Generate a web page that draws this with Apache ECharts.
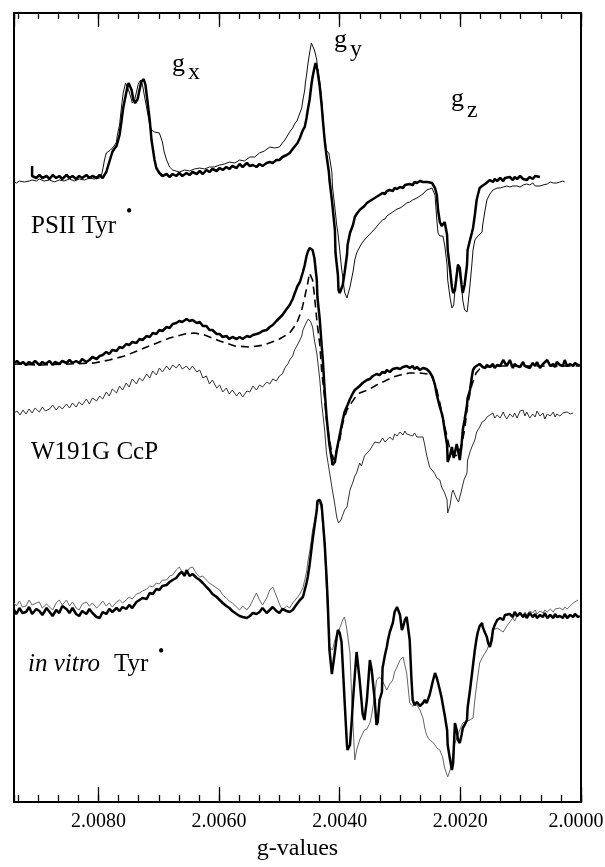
<!DOCTYPE html>
<html>
<head>
<meta charset="utf-8">
<script src="https://cdn.jsdelivr.net/npm/echarts@6/dist/echarts.min.js"></script>
<style>
  html, body { margin: 0; padding: 0; background: #fff; }
  #chart { width: 605px; height: 867px; }
</style>
</head>
<body>
<div id="chart"></div>
<script>
// g-value axis (runs high -> low, left -> right)
var gMin = 2.0000;
var gMax = 2.0094;
var majorStep = 0.0020;
var minorSplit = 6;

// each trace: [g-value, signal (arb. units, offset per sample)]
var psiiTyrThick = [
[2.00910,636],[2.00910,626],[2.00903,624],[2.00898,627],[2.00893,624],[2.00886,626],[2.00881,623],[2.00876,627],[2.00870,624],[2.00865,626],[2.00860,623],[2.00853,627],[2.00848,624],[2.00843,626],[2.00837,623],[2.00832,626],[2.00827,624],[2.00820,627],[2.00815,624],[2.00810,626],[2.00803,624],[2.00798,627],[2.00793,624],[2.00790,625],[2.00787,630],[2.00784,636],[2.00780,644],[2.00777,650],[2.00774,653],[2.00770,656],[2.00765,667],[2.00762,680],[2.00759,694],[2.00755,706],[2.00752,715],[2.00750,719],[2.00747,718],[2.00745,712],[2.00742,702],[2.00739,699],[2.00735,703],[2.00732,712],[2.00729,720],[2.00725,723],[2.00722,717],[2.00719,702],[2.00715,682],[2.00712,662],[2.00707,642],[2.00704,634],[2.00699,629],[2.00694,626],[2.00687,628],[2.00682,625],[2.00677,628],[2.00671,626],[2.00666,629],[2.00661,626],[2.00654,629],[2.00649,627],[2.00644,630],[2.00637,628],[2.00632,631],[2.00627,628],[2.00621,632],[2.00616,630],[2.00611,633],[2.00604,631],[2.00599,634],[2.00594,632],[2.00588,635],[2.00583,633],[2.00578,636],[2.00571,634],[2.00566,638],[2.00561,635],[2.00554,639],[2.00549,636],[2.00544,637],[2.00538,635],[2.00533,638],[2.00528,636],[2.00521,639],[2.00516,640],[2.00511,639],[2.00505,642],[2.00500,642],[2.00495,645],[2.00488,647],[2.00483,649],[2.00478,653],[2.00475,655],[2.00470,659],[2.00466,664],[2.00463,669],[2.00461,672],[2.00458,675],[2.00455,684],[2.00453,692],[2.00450,702],[2.00447,717],[2.00445,725],[2.00442,734],[2.00440,739],[2.00438,738],[2.00437,732],[2.00433,715],[2.00430,697],[2.00428,682],[2.00425,662],[2.00422,647],[2.00418,630],[2.00417,622],[2.00413,602],[2.00408,572],[2.00407,549],[2.00403,527],[2.00402,512],[2.00400,509],[2.00397,509],[2.00395,517],[2.00392,529],[2.00388,547],[2.00387,557],[2.00383,569],[2.00378,577],[2.00375,585],[2.00372,588],[2.00367,592],[2.00364,594],[2.00359,596],[2.00355,599],[2.00350,601],[2.00347,602],[2.00342,604],[2.00339,606],[2.00334,607],[2.00329,609],[2.00325,608],[2.00322,611],[2.00317,612],[2.00312,611],[2.00309,614],[2.00305,613],[2.00300,615],[2.00295,614],[2.00292,617],[2.00289,616],[2.00284,618],[2.00279,617],[2.00276,620],[2.00272,619],[2.00267,621],[2.00262,620],[2.00259,621],[2.00254,620],[2.00251,621],[2.00247,619],[2.00246,617],[2.00242,614],[2.00239,607],[2.00237,592],[2.00234,580],[2.00231,576],[2.00229,578],[2.00226,580],[2.00222,567],[2.00221,552],[2.00217,532],[2.00214,515],[2.00212,509],[2.00211,508],[2.00209,512],[2.00206,527],[2.00204,537],[2.00203,539],[2.00201,534],[2.00198,517],[2.00196,509],[2.00194,508],[2.00193,517],[2.00189,537],[2.00188,552],[2.00184,562],[2.00181,569],[2.00179,574],[2.00176,587],[2.00173,602],[2.00171,607],[2.00168,614],[2.00164,616],[2.00159,618],[2.00156,620],[2.00151,622],[2.00146,620],[2.00143,623],[2.00139,621],[2.00134,624],[2.00129,621],[2.00126,624],[2.00123,622],[2.00118,625],[2.00113,622],[2.00110,625],[2.00106,623],[2.00101,626],[2.00096,623],[2.00093,625],[2.00090,622],[2.00085,625],[2.00080,623],[2.00076,626],[2.00073,624],[2.00068,625]
];

var psiiTyrThin = [
[2.00940,620],[2.00936,619],[2.00931,621],[2.00923,620],[2.00920,622],[2.00915,621],[2.00910,622],[2.00903,621],[2.00898,623],[2.00890,621],[2.00881,622],[2.00873,620],[2.00865,622],[2.00857,621],[2.00848,623],[2.00840,621],[2.00832,623],[2.00823,622],[2.00815,624],[2.00807,623],[2.00798,624],[2.00795,627],[2.00793,632],[2.00790,642],[2.00787,649],[2.00784,651],[2.00780,652],[2.00777,653],[2.00774,656],[2.00770,660],[2.00769,666],[2.00765,677],[2.00762,694],[2.00759,709],[2.00755,719],[2.00754,721],[2.00752,718],[2.00749,710],[2.00745,702],[2.00744,699],[2.00740,702],[2.00737,710],[2.00734,718],[2.00730,722],[2.00727,717],[2.00724,707],[2.00720,694],[2.00717,684],[2.00715,677],[2.00712,672],[2.00707,670],[2.00704,670],[2.00699,669],[2.00694,660],[2.00691,650],[2.00687,642],[2.00682,635],[2.00677,632],[2.00674,631],[2.00666,630],[2.00657,632],[2.00649,631],[2.00641,633],[2.00632,634],[2.00624,633],[2.00616,635],[2.00608,635],[2.00599,637],[2.00591,638],[2.00583,640],[2.00574,639],[2.00566,642],[2.00558,641],[2.00549,645],[2.00541,645],[2.00533,649],[2.00525,651],[2.00516,655],[2.00508,654],[2.00500,655],[2.00495,659],[2.00491,662],[2.00486,667],[2.00483,670],[2.00478,674],[2.00475,678],[2.00471,681],[2.00466,689],[2.00463,694],[2.00461,702],[2.00458,712],[2.00457,719],[2.00455,727],[2.00453,737],[2.00450,749],[2.00447,759],[2.00445,758],[2.00442,752],[2.00438,742],[2.00437,735],[2.00433,720],[2.00430,702],[2.00428,687],[2.00425,662],[2.00423,652],[2.00422,650],[2.00418,649],[2.00417,649],[2.00413,630],[2.00412,615],[2.00408,594],[2.00405,577],[2.00403,569],[2.00400,552],[2.00397,534],[2.00395,525],[2.00392,510],[2.00388,504],[2.00387,506],[2.00383,515],[2.00378,530],[2.00375,542],[2.00372,549],[2.00367,555],[2.00362,560],[2.00359,562],[2.00355,565],[2.00350,568],[2.00347,570],[2.00342,573],[2.00339,575],[2.00334,579],[2.00329,582],[2.00325,583],[2.00322,586],[2.00317,588],[2.00312,590],[2.00309,591],[2.00305,593],[2.00300,594],[2.00295,596],[2.00292,597],[2.00289,599],[2.00284,600],[2.00279,602],[2.00276,603],[2.00272,604],[2.00267,606],[2.00262,608],[2.00259,610],[2.00256,612],[2.00251,613],[2.00247,614],[2.00246,612],[2.00242,607],[2.00239,582],[2.00237,569],[2.00234,566],[2.00231,565],[2.00229,566],[2.00226,557],[2.00222,537],[2.00221,522],[2.00217,504],[2.00214,494],[2.00212,493],[2.00211,497],[2.00209,512],[2.00206,530],[2.00204,538],[2.00203,540],[2.00201,536],[2.00198,517],[2.00196,502],[2.00193,492],[2.00189,490],[2.00188,494],[2.00184,517],[2.00181,537],[2.00179,552],[2.00176,562],[2.00173,564],[2.00171,566],[2.00168,568],[2.00164,570],[2.00163,577],[2.00159,592],[2.00156,602],[2.00151,608],[2.00146,612],[2.00143,613],[2.00139,614],[2.00134,614],[2.00129,615],[2.00126,614],[2.00123,616],[2.00118,615],[2.00113,616],[2.00110,614],[2.00106,616],[2.00101,615],[2.00096,617],[2.00093,616],[2.00090,618],[2.00085,617],[2.00080,619],[2.00076,616],[2.00073,618],[2.00068,616],[2.00063,617],[2.00060,619],[2.00056,618],[2.00051,620],[2.00046,619],[2.00043,621],[2.00040,619],[2.00035,620],[2.00030,621],[2.00027,620]
];

var ccpThick = [
[2.00940,439],[2.00935,441],[2.00930,438],[2.00925,440],[2.00920,437],[2.00915,440],[2.00910,438],[2.00905,441],[2.00898,437],[2.00893,440],[2.00888,438],[2.00881,441],[2.00876,437],[2.00872,440],[2.00865,438],[2.00860,441],[2.00853,439],[2.00848,442],[2.00843,439],[2.00837,441],[2.00832,439],[2.00827,443],[2.00820,440],[2.00815,442],[2.00810,445],[2.00803,443],[2.00798,446],[2.00793,447],[2.00787,450],[2.00782,448],[2.00777,452],[2.00770,451],[2.00765,455],[2.00760,454],[2.00754,458],[2.00749,457],[2.00744,460],[2.00737,459],[2.00732,463],[2.00727,462],[2.00720,466],[2.00715,465],[2.00710,469],[2.00704,468],[2.00699,472],[2.00694,471],[2.00687,475],[2.00682,474],[2.00677,478],[2.00671,479],[2.00666,481],[2.00661,480],[2.00654,483],[2.00649,481],[2.00644,482],[2.00637,479],[2.00632,480],[2.00627,476],[2.00621,476],[2.00616,472],[2.00611,472],[2.00604,468],[2.00599,468],[2.00594,465],[2.00588,466],[2.00583,463],[2.00578,465],[2.00571,463],[2.00566,465],[2.00561,463],[2.00554,466],[2.00549,465],[2.00544,467],[2.00538,468],[2.00533,469],[2.00528,471],[2.00521,472],[2.00516,475],[2.00511,477],[2.00505,481],[2.00500,484],[2.00495,487],[2.00488,493],[2.00483,497],[2.00478,503],[2.00475,508],[2.00470,516],[2.00466,520],[2.00461,530],[2.00458,537],[2.00455,546],[2.00453,550],[2.00450,554],[2.00447,556],[2.00445,552],[2.00442,544],[2.00438,522],[2.00437,505],[2.00433,482],[2.00430,457],[2.00428,442],[2.00425,412],[2.00422,387],[2.00420,374],[2.00417,357],[2.00413,342],[2.00412,337],[2.00408,340],[2.00405,352],[2.00400,367],[2.00395,382],[2.00392,390],[2.00387,397],[2.00383,403],[2.00378,409],[2.00375,412],[2.00372,414],[2.00367,416],[2.00362,419],[2.00359,420],[2.00355,422],[2.00350,423],[2.00345,426],[2.00342,425],[2.00339,428],[2.00334,427],[2.00329,430],[2.00325,429],[2.00322,432],[2.00317,430],[2.00312,433],[2.00309,431],[2.00305,434],[2.00300,433],[2.00295,435],[2.00292,433],[2.00289,436],[2.00284,434],[2.00279,436],[2.00276,433],[2.00272,435],[2.00267,432],[2.00262,434],[2.00259,432],[2.00256,433],[2.00251,430],[2.00246,425],[2.00242,417],[2.00239,407],[2.00234,395],[2.00231,389],[2.00229,384],[2.00226,372],[2.00222,357],[2.00221,340],[2.00217,347],[2.00214,355],[2.00211,344],[2.00209,345],[2.00206,358],[2.00204,356],[2.00201,342],[2.00198,357],[2.00196,372],[2.00193,382],[2.00189,397],[2.00188,404],[2.00184,412],[2.00181,425],[2.00179,432],[2.00176,435],[2.00173,436],[2.00168,438],[2.00163,435],[2.00159,434],[2.00156,437],[2.00151,435],[2.00146,438],[2.00143,434],[2.00139,437],[2.00134,436],[2.00129,442],[2.00126,440],[2.00123,436],[2.00118,442],[2.00113,434],[2.00110,438],[2.00106,436],[2.00101,435],[2.00096,440],[2.00093,436],[2.00090,438],[2.00085,434],[2.00080,439],[2.00076,436],[2.00073,440],[2.00068,434],[2.00063,438],[2.00060,437],[2.00056,442],[2.00051,436],[2.00046,438],[2.00043,435],[2.00040,440],[2.00035,437],[2.00030,436],[2.00027,442],[2.00023,436],[2.00018,438],[2.00013,436],[2.00010,439],[2.00005,437],[2.00002,437]
];

var ccpSimulation = [
[2.00940,438],[2.00898,437],[2.00848,438],[2.00807,439],[2.00782,442],[2.00757,446],[2.00732,452],[2.00707,458],[2.00682,464],[2.00657,468],[2.00641,469],[2.00624,467],[2.00599,461],[2.00574,456],[2.00549,455],[2.00525,457],[2.00500,463],[2.00483,469],[2.00471,479],[2.00463,492],[2.00458,505],[2.00453,519],[2.00450,529],[2.00447,530],[2.00445,522],[2.00442,507],[2.00438,482],[2.00433,457],[2.00430,432],[2.00425,404],[2.00422,382],[2.00417,362],[2.00413,349],[2.00410,342],[2.00407,344],[2.00400,362],[2.00395,379],[2.00388,392],[2.00383,397],[2.00375,404],[2.00367,409],[2.00350,413],[2.00339,417],[2.00325,421],[2.00312,425],[2.00300,427],[2.00284,429],[2.00267,429],[2.00254,428],[2.00246,424],[2.00239,412],[2.00234,399],[2.00229,384],[2.00222,365],[2.00217,352],[2.00211,346],[2.00204,347],[2.00198,357],[2.00193,372],[2.00188,397],[2.00181,417],[2.00174,429],[2.00168,433],[2.00156,435],[2.00134,436],[2.00085,436],[2.00035,436],[2.00002,436]
];

var ccpThin = [
[2.00940,389],[2.00935,391],[2.00930,387],[2.00925,392],[2.00920,388],[2.00915,393],[2.00910,389],[2.00905,394],[2.00898,390],[2.00893,395],[2.00888,391],[2.00881,393],[2.00876,397],[2.00870,392],[2.00865,396],[2.00860,393],[2.00853,398],[2.00848,394],[2.00843,399],[2.00837,395],[2.00832,400],[2.00827,397],[2.00820,403],[2.00815,398],[2.00810,404],[2.00803,401],[2.00798,406],[2.00793,403],[2.00787,410],[2.00782,406],[2.00777,413],[2.00770,409],[2.00765,416],[2.00760,412],[2.00754,419],[2.00749,415],[2.00744,423],[2.00737,418],[2.00732,424],[2.00727,421],[2.00720,428],[2.00715,424],[2.00710,431],[2.00704,427],[2.00699,434],[2.00694,430],[2.00687,436],[2.00682,432],[2.00677,437],[2.00671,434],[2.00666,438],[2.00661,433],[2.00654,436],[2.00649,432],[2.00644,436],[2.00637,430],[2.00632,432],[2.00627,424],[2.00621,426],[2.00616,418],[2.00611,422],[2.00604,414],[2.00599,417],[2.00594,410],[2.00588,414],[2.00583,408],[2.00578,412],[2.00571,406],[2.00566,410],[2.00561,405],[2.00554,411],[2.00549,410],[2.00544,416],[2.00538,412],[2.00533,417],[2.00528,415],[2.00521,420],[2.00516,418],[2.00511,423],[2.00505,421],[2.00500,426],[2.00495,428],[2.00491,434],[2.00486,438],[2.00483,442],[2.00478,446],[2.00475,452],[2.00471,456],[2.00466,462],[2.00463,466],[2.00461,472],[2.00458,476],[2.00455,480],[2.00452,483],[2.00448,480],[2.00445,475],[2.00442,462],[2.00438,449],[2.00433,422],[2.00430,399],[2.00425,372],[2.00422,349],[2.00417,330],[2.00413,315],[2.00408,297],[2.00405,285],[2.00402,279],[2.00398,282],[2.00395,287],[2.00392,292],[2.00388,295],[2.00383,312],[2.00378,320],[2.00375,326],[2.00372,329],[2.00367,339],[2.00364,336],[2.00359,346],[2.00355,349],[2.00350,352],[2.00347,350],[2.00342,360],[2.00339,362],[2.00334,359],[2.00329,364],[2.00325,360],[2.00322,362],[2.00317,365],[2.00312,362],[2.00309,368],[2.00305,366],[2.00300,370],[2.00295,367],[2.00292,371],[2.00289,368],[2.00284,367],[2.00279,366],[2.00276,369],[2.00272,365],[2.00267,365],[2.00262,365],[2.00259,357],[2.00256,347],[2.00251,335],[2.00247,332],[2.00242,328],[2.00239,324],[2.00234,322],[2.00231,315],[2.00226,309],[2.00222,302],[2.00221,289],[2.00217,297],[2.00214,309],[2.00212,312],[2.00209,307],[2.00206,303],[2.00203,300],[2.00201,302],[2.00198,312],[2.00194,322],[2.00189,329],[2.00188,342],[2.00184,350],[2.00181,355],[2.00176,362],[2.00173,370],[2.00168,375],[2.00164,380],[2.00159,382],[2.00156,385],[2.00151,387],[2.00146,389],[2.00143,384],[2.00139,387],[2.00134,384],[2.00129,390],[2.00126,386],[2.00123,383],[2.00118,388],[2.00113,385],[2.00110,389],[2.00106,384],[2.00101,391],[2.00096,392],[2.00093,386],[2.00090,390],[2.00085,384],[2.00080,388],[2.00076,385],[2.00073,391],[2.00068,386],[2.00063,389],[2.00060,383],[2.00056,388],[2.00051,386],[2.00046,390],[2.00043,385],[2.00040,388],[2.00035,386],[2.00030,389],[2.00027,387],[2.00023,390],[2.00018,388],[2.00013,389]
];

var vitroTyrThick = [
[2.00940,192],[2.00936,188],[2.00931,194],[2.00926,189],[2.00920,190],[2.00915,195],[2.00910,188],[2.00903,193],[2.00898,191],[2.00893,187],[2.00886,194],[2.00881,190],[2.00876,186],[2.00870,192],[2.00865,189],[2.00860,196],[2.00853,193],[2.00848,189],[2.00843,194],[2.00837,188],[2.00832,186],[2.00827,191],[2.00820,188],[2.00815,193],[2.00810,189],[2.00803,185],[2.00798,184],[2.00793,190],[2.00787,188],[2.00782,193],[2.00777,190],[2.00770,194],[2.00765,191],[2.00760,195],[2.00754,193],[2.00749,197],[2.00744,194],[2.00737,200],[2.00732,202],[2.00727,204],[2.00720,203],[2.00715,209],[2.00710,208],[2.00704,213],[2.00699,212],[2.00694,216],[2.00687,217],[2.00682,220],[2.00677,222],[2.00671,224],[2.00666,228],[2.00662,230],[2.00657,226],[2.00654,232],[2.00649,226],[2.00644,228],[2.00637,224],[2.00632,222],[2.00627,219],[2.00621,215],[2.00616,212],[2.00611,208],[2.00604,205],[2.00599,202],[2.00594,199],[2.00588,196],[2.00583,194],[2.00578,191],[2.00571,188],[2.00566,186],[2.00561,185],[2.00554,184],[2.00549,186],[2.00544,189],[2.00538,188],[2.00533,190],[2.00528,194],[2.00521,189],[2.00516,192],[2.00511,195],[2.00505,191],[2.00500,189],[2.00495,193],[2.00488,191],[2.00483,190],[2.00478,192],[2.00471,198],[2.00466,202],[2.00461,205],[2.00458,212],[2.00455,219],[2.00453,225],[2.00450,237],[2.00447,252],[2.00445,262],[2.00442,275],[2.00438,292],[2.00437,301],[2.00433,302],[2.00430,297],[2.00428,282],[2.00425,259],[2.00422,227],[2.00420,202],[2.00417,152],[2.00413,128],[2.00412,130],[2.00408,150],[2.00405,165],[2.00403,172],[2.00400,169],[2.00397,160],[2.00395,137],[2.00392,102],[2.00388,57],[2.00387,52],[2.00383,57],[2.00380,82],[2.00378,102],[2.00375,127],[2.00372,150],[2.00367,122],[2.00364,102],[2.00362,88],[2.00359,82],[2.00355,102],[2.00350,142],[2.00347,132],[2.00342,102],[2.00339,77],[2.00337,80],[2.00334,102],[2.00330,110],[2.00329,134],[2.00325,147],[2.00322,155],[2.00320,162],[2.00317,170],[2.00312,179],[2.00309,190],[2.00305,195],[2.00302,194],[2.00300,187],[2.00297,172],[2.00295,175],[2.00292,182],[2.00289,185],[2.00287,184],[2.00284,162],[2.00281,122],[2.00279,102],[2.00276,97],[2.00272,100],[2.00267,96],[2.00262,99],[2.00259,102],[2.00256,99],[2.00251,107],[2.00246,120],[2.00242,129],[2.00239,124],[2.00234,112],[2.00231,104],[2.00229,97],[2.00226,87],[2.00222,72],[2.00221,57],[2.00217,42],[2.00214,32],[2.00212,39],[2.00209,79],[2.00206,72],[2.00204,62],[2.00201,59],[2.00198,67],[2.00196,74],[2.00193,77],[2.00189,82],[2.00188,94],[2.00184,112],[2.00181,127],[2.00179,137],[2.00176,152],[2.00173,164],[2.00171,170],[2.00168,176],[2.00164,179],[2.00163,175],[2.00159,169],[2.00156,165],[2.00154,159],[2.00151,155],[2.00148,162],[2.00146,172],[2.00143,177],[2.00139,182],[2.00134,184],[2.00129,182],[2.00126,187],[2.00123,186],[2.00118,188],[2.00113,185],[2.00110,190],[2.00106,186],[2.00101,189],[2.00096,185],[2.00093,188],[2.00090,184],[2.00085,189],[2.00080,185],[2.00076,188],[2.00073,184],[2.00068,187],[2.00063,185],[2.00060,189],[2.00056,184],[2.00051,187],[2.00046,184],[2.00043,188],[2.00040,185],[2.00035,186],[2.00030,184],[2.00027,188],[2.00023,184],[2.00018,187],[2.00013,185],[2.00010,188],[2.00005,185],[2.00002,186]
];

var vitroTyrThin = [
[2.00940,199],[2.00936,196],[2.00931,201],[2.00926,195],[2.00920,196],[2.00915,202],[2.00910,197],[2.00903,199],[2.00898,200],[2.00893,194],[2.00886,198],[2.00881,195],[2.00876,192],[2.00870,199],[2.00865,202],[2.00860,197],[2.00853,202],[2.00848,196],[2.00843,200],[2.00837,194],[2.00832,192],[2.00827,198],[2.00820,200],[2.00815,196],[2.00810,199],[2.00803,194],[2.00798,197],[2.00793,201],[2.00787,196],[2.00782,199],[2.00777,195],[2.00770,200],[2.00765,202],[2.00760,199],[2.00754,202],[2.00749,205],[2.00744,203],[2.00737,208],[2.00732,209],[2.00727,211],[2.00720,213],[2.00715,216],[2.00710,215],[2.00704,219],[2.00699,218],[2.00694,222],[2.00687,222],[2.00682,226],[2.00677,227],[2.00671,232],[2.00666,235],[2.00661,230],[2.00654,229],[2.00649,234],[2.00644,235],[2.00637,228],[2.00632,225],[2.00627,226],[2.00621,222],[2.00616,219],[2.00611,217],[2.00604,214],[2.00599,212],[2.00594,207],[2.00588,204],[2.00583,201],[2.00578,199],[2.00571,195],[2.00566,192],[2.00561,196],[2.00554,192],[2.00549,196],[2.00544,202],[2.00538,209],[2.00533,202],[2.00528,197],[2.00521,204],[2.00516,212],[2.00511,215],[2.00508,214],[2.00505,206],[2.00500,198],[2.00495,192],[2.00488,196],[2.00483,194],[2.00478,199],[2.00471,204],[2.00466,208],[2.00461,214],[2.00458,222],[2.00455,230],[2.00453,240],[2.00450,250],[2.00447,262],[2.00445,272],[2.00442,280],[2.00438,292],[2.00437,297],[2.00433,299],[2.00430,292],[2.00428,277],[2.00425,252],[2.00422,212],[2.00420,187],[2.00417,155],[2.00412,152],[2.00408,162],[2.00403,169],[2.00400,174],[2.00395,182],[2.00392,185],[2.00388,172],[2.00383,149],[2.00380,102],[2.00375,42],[2.00372,52],[2.00367,62],[2.00364,66],[2.00359,72],[2.00355,73],[2.00350,79],[2.00347,87],[2.00342,107],[2.00339,122],[2.00334,125],[2.00330,122],[2.00325,116],[2.00322,112],[2.00317,118],[2.00312,122],[2.00309,130],[2.00305,135],[2.00300,142],[2.00295,145],[2.00292,137],[2.00289,129],[2.00284,99],[2.00279,96],[2.00276,94],[2.00272,97],[2.00267,92],[2.00262,84],[2.00259,74],[2.00256,67],[2.00251,62],[2.00246,60],[2.00242,57],[2.00239,54],[2.00234,52],[2.00229,44],[2.00226,34],[2.00221,25],[2.00217,32],[2.00214,42],[2.00209,59],[2.00206,64],[2.00201,72],[2.00196,79],[2.00193,80],[2.00189,81],[2.00184,82],[2.00179,84],[2.00176,102],[2.00173,117],[2.00168,139],[2.00164,144],[2.00159,149],[2.00156,152],[2.00151,160],[2.00146,172],[2.00143,170],[2.00139,174],[2.00134,172],[2.00129,170],[2.00126,172],[2.00123,176],[2.00118,180],[2.00113,184],[2.00110,181],[2.00106,186],[2.00101,188],[2.00096,185],[2.00093,190],[2.00090,187],[2.00085,191],[2.00080,189],[2.00076,192],[2.00073,188],[2.00068,191],[2.00063,189],[2.00060,192],[2.00056,190],[2.00051,193],[2.00046,190],[2.00043,193],[2.00040,191],[2.00035,194],[2.00030,192],[2.00027,195],[2.00023,193],[2.00018,196],[2.00013,199],[2.00010,200],[2.00005,202]
];

var serif = '"Liberation Serif", "Times New Roman", serif';

function tickAxis(position, interval, length, withLabels) {
    return {
        type: 'value',
        position: position,
        min: gMin,
        max: gMax,
        inverse: true,
        interval: interval,
        axisLine: { show: false },
        splitLine: { show: false },
        axisTick: { show: true, inside: true, length: length, lineStyle: { color: '#000', width: 1.3 } },
        axisLabel: withLabels ? {
            show: true,
            margin: 10,
            color: '#000',
            fontFamily: serif,
            fontSize: 20,
            showMaxLabel: false,
            // the last label (2.0000) sits on the right frame; nudge it inside the page
            formatter: function (v) {
                return v === gMin ? '{edge|' + v.toFixed(4) + '}' : v.toFixed(4);
            },
            rich: { edge: { fontFamily: serif, fontSize: 20, color: '#000', padding: [0, 10, 0, 0] } }
        } : { show: false }
    };
}

function trace(data, width, color, dash, z) {
    return {
        type: 'line',
        data: data,
        symbol: 'none',
        silent: true,
        z: z,
        lineStyle: { width: width, color: color, type: dash || 'solid' }
    };
}

function label(text, x, y, size, italic) {
    return {
        type: 'text',
        x: x,
        y: y,
        silent: true,
        style: {
            text: text,
            fill: '#000',
            font: (italic ? 'italic ' : '') + size + 'px ' + serif,
            verticalAlign: 'middle'
        }
    };
}

var chart = echarts.init(document.getElementById('chart'), null, { renderer: 'canvas' });

var mainAxis = tickAxis('bottom', majorStep, 15, true);
mainAxis.name = 'g-values';
mainAxis.nameLocation = 'middle';
mainAxis.nameGap = 32;
mainAxis.nameTextStyle = { color: '#000', fontFamily: serif, fontSize: 24 };

chart.setOption({
    animation: false,
    backgroundColor: '#fff',
    grid: {
        left: 14, right: 24, top: 13, bottom: 65,
        show: true, borderColor: '#000', borderWidth: 2,
        outerBoundsMode: 'none'
    },
    xAxis: [
        mainAxis,
        tickAxis('bottom', majorStep / minorSplit, 7, false),
        tickAxis('top', majorStep, 14, false),
        tickAxis('top', majorStep / minorSplit, 6, false)
    ],
    yAxis: { type: 'value', min: 0, max: 789, show: false },
    series: [
        trace(psiiTyrThin, 1, '#111', null, 2),
        trace(psiiTyrThick, 2.5, '#000', null, 3),
        trace(ccpThin, 1, '#333', null, 2),
        trace(ccpSimulation, 1.6, '#000', [8, 5], 2),
        trace(ccpThick, 2.5, '#000', null, 3),
        trace(vitroTyrThin, 1, '#666', null, 2),
        trace(vitroTyrThick, 2.5, '#000', null, 3)
    ],
    graphic: [
        label('g', 172, 64, 26), label('x', 188, 73, 24),
        label('g', 334, 40, 26), label('y', 350, 50, 24),
        label('g', 451, 99, 26), label('z', 467, 111, 24),
        label('PSII Tyr', 31, 226, 25), label('\u2022', 126, 212, 18),
        label('W191G CcP', 31, 452, 25),
        label('in vitro', 28, 664, 25, true), label('Tyr', 114, 664, 25), label('\u2022', 158, 652, 18)
    ]
});
</script>
</body>
</html>
